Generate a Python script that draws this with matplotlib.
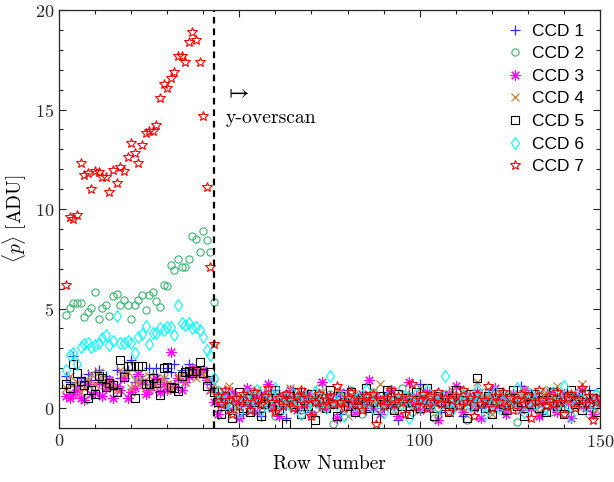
import numpy as np
import matplotlib
matplotlib.use("Agg")
import matplotlib.pyplot as plt
from matplotlib.ticker import MultipleLocator

plt.rcParams['font.family'] = 'serif'
plt.rcParams['font.serif'] = ['cmr10']
plt.rcParams['mathtext.fontset'] = 'cm'
plt.rcParams['axes.formatter.use_mathtext'] = True
plt.rcParams['axes.unicode_minus'] = False

# Row numbers: pre-overscan 2..43, overscan 44..150
rows_pre = list(range(2, 44))
rows_post = list(range(44, 151))
overscan_start = 43

ccd1_pre = [1.6, 1.3, 2.6, 1.1, 1.5, 1.3, 1.7, 1.4, 1.8, 1.9, 1.2, 1.6, 1.4, 1.0, 1.9, 1.5, 1.8, 1.9, 2.4, 1.3,
            1.6, 1.4, 1.2, 2.0, 1.7, 2.0, 1.3, 1.5, 2.0, 1.8, 2.2, 1.4, 1.9, 1.6, 2.2, 1.9, 1.7, 1.8, 1.9, 1.5,
            1.2, 0.8]
ccd2_pre = [4.69, 5.03, 5.26, 5.29, 5.26, 4.59, 4.82, 5.04, 5.83, 4.49, 5.04, 5.16, 4.62, 5.63, 5.74, 5.18,
            5.44, 5.19, 4.49, 5.18, 5.41, 5.68, 4.92, 5.69, 5.84, 5.36, 5.09, 6.20, 6.11, 7.17, 6.92, 7.49,
            7.10, 7.07, 7.47, 8.63, 8.51, 7.84, 8.89, 8.43, 7.86, 5.34]
ccd3_pre = [0.6, 0.5, 0.7, 0.9, 0.5, 0.4, 1.2, 0.7, 0.8, 1.3, 0.6, 1.0, 1.4, 0.5, 1.1, 0.9, 1.5, 0.5, 0.8, 1.0,
            1.7, 1.3, 0.7, 0.9, 1.2, 1.5, 0.8, 1.2, 0.9, 2.8, 1.1, 1.5, 0.9, 1.3, 1.6, 2.0, 1.7, 1.8, 1.9, 1.4,
            0.9, 0.3]
ccd4_pre = [1.0, 1.6, 1.2, 1.3, 0.8, 1.0, 1.4, 1.7, 1.2, 1.8, 1.5, 1.1, 1.3, 1.0, 0.9, 1.9, 1.7, 1.8, 1.0, 1.4,
            1.2, 1.5, 1.1, 1.6, 1.0, 1.2, 1.4, 1.5, 1.2, 0.9, 1.1, 1.6, 1.7, 1.3, 1.9, 1.8, 1.5, 1.9, 1.7, 1.4,
            0.9, 1.2]
ccd5_pre = [1.22, 0.99, 2.24, 1.78, 1.36, 1.14, 0.52, 0.9, 0.72, 1.61, 1.52, 1.06, 1.27, 1.14, 0.82, 2.40,
            1.56, 2.11, 2.11, 0.49, 2.11, 2.11, 1.22, 1.22, 1.52, 1.27, 0.64, 2.03, 2.06, 1.06, 1.02, 0.85,
            1.61, 1.81, 1.86, 1.78, 1.86, 2.31, 1.74, 1.1, 1.81, 0.82]
ccd6_pre = [1.9, 2.65, 2.75, 2.23, 3.08, 3.2, 3.25, 3.08, 3.17, 3.25, 3.53, 3.65, 3.17, 3.37, 4.62, 3.25,
            3.25, 3.37, 3.25, 2.75, 3.55, 3.7, 4.12, 3.22, 3.78, 3.75, 4.0, 3.92, 4.07, 4.09, 3.67, 5.16,
            4.29, 4.16, 4.26, 4.04, 4.09, 3.92, 3.57, 2.9, 2.66, 1.5]
ccd7_pre = [6.2, 9.6, 9.5, 9.7, 12.3, 11.7, 11.8, 11.0, 11.9, 11.86, 11.6, 11.6, 10.85, 11.98, 11.3, 12.1,
            11.9, 12.6, 13.3, 12.8, 12.3, 13.2, 13.8, 13.9, 13.9, 14.2, 15.6, 16.3, 16.1, 16.6, 16.9, 17.7,
            17.7, 17.4, 18.4, 18.9, 18.5, 17.4, 14.7, 11.1, 7.1, 3.2]

ccd1_post = [0.5, 0.2, 0.8, -0.1, 0.4, 0.6, 0.1, -0.3, 0.3, 0.7,
             0.2, 0.5, -0.4, 0.1, 0.6, 0.3, 0.9, 0.0, 0.4, -0.5,
             0.2, 0.6, 0.3, 0.1, 0.8, 0.4, -0.2, 0.5, 0.3, 0.7,
             0.0, 0.4, 0.2, 0.6, -0.3, 0.5, 0.9, 0.1, 0.3, 0.4,
             0.7, -0.1, 0.5, 0.2, 0.6, 0.3, 0.0, 0.8, 0.4, 0.2,
             -0.6, 0.5, 0.3, 0.7, 0.1, 0.4, 1.2, 0.2, 0.6, 0.0,
             0.3, 0.5, -0.2, 0.4, 0.8, 0.1, 0.6, 0.3, -0.4, 0.5,
             0.2, 0.7, 0.4, 0.0, 0.6, 0.3, 0.9, 0.1, 0.5, -0.1,
             0.4, 0.2, 0.7, 0.3, 1.1, 0.5, 0.0, 0.6, 0.2, 0.4,
             -0.3, 0.5, 0.8, 0.1, 0.3, 0.6, 0.2, -0.2, 0.4, 0.7,
             0.1, 0.5, 0.3, 0.9, 0.0, 0.4, 0.6]
ccd2_post = [0.9, 0.6, 0.3, 0.7, 0.1, 0.5, -0.2, 0.4, 0.8, 0.2,
             0.6, 0.3, 0.0, 0.5, 0.9, 0.2, -0.4, 0.6, 0.3, 0.7,
             0.1, 0.4, 0.8, -0.1, 0.5, 0.2, 0.6, 0.3, 1.0, 0.0,
             0.4, 0.7, -0.8, 0.3, 0.5, 0.1, 0.6, 0.9, 0.2, 0.4,
             -0.3, 0.6, 0.2, 0.8, 0.4, 0.0, 0.5, 0.3, 0.7, 0.1,
             0.4, 1.0, 0.2, 0.6, -0.2, 0.3, 0.5, 0.8, 0.1, 0.4,
             -0.5, 0.6, 0.3, 0.7, 0.2, 0.0, 0.5, 0.9, 0.3, -0.6,
             0.4, 0.1, 0.6, 0.3, 0.8, -0.1, 0.5, 0.2, 0.7, 0.4,
             0.0, 0.6, 0.3, -0.7, 0.5, 0.2, 0.8, 0.4, 0.1, 0.6,
             0.3, 0.9, -0.2, 0.5, 0.2, 0.7, 0.4, 0.0, 0.6, 0.3,
             0.8, 0.1, 0.5, -0.3, 0.4, 0.7, 0.2]
ccd3_post = [-0.3, 0.2, 0.6, -0.1, 0.8, 0.3, -0.5, 0.4, 1.0, 0.1,
             0.5, -0.2, 0.7, 0.3, 1.2, 0.0, 0.4, -0.4, 0.6, 0.2,
             0.9, 0.3, -0.1, 0.5, 0.1, 0.7, -0.3, 0.4, 0.2, 1.3,
             0.0, 0.6, 0.3, -0.5, 0.8, 0.2, 0.4, 0.1, -0.2, 0.5,
             0.7, 0.3, 1.4, 0.0, 0.6, -0.3, 0.4, 0.2, 0.9, 0.1,
             -0.4, 0.5, 0.3, 1.3, 0.2, 0.6, -0.1, 0.4, 0.8, 0.0,
             0.3, -0.6, 0.5, 0.2, 0.7, 0.1, 1.1, 0.4, -0.2, 0.6,
             0.3, 0.0, 0.8, -0.5, 0.4, 0.2, 0.6, 1.0, 0.1, 0.5,
             -0.3, 0.3, 0.7, 0.2, -0.1, 0.9, 0.4, 0.0, 0.6, -0.4,
             0.2, 0.5, 0.8, 0.1, -0.2, 0.4, 0.7, 0.3, -0.5, 0.6,
             0.2, 0.9, 0.0, 0.4, -0.3, 0.5, 0.3]
ccd4_post = [0.4, 0.7, 0.2, 1.1, 0.5, 0.0, 0.6, 0.3, 0.8, -0.2,
             0.4, 0.9, 0.1, 0.5, 0.3, 0.7, -0.1, 0.6, 0.2, 0.4,
             1.0, 0.3, 0.5, 0.0, 0.7, 0.2, 0.6, -0.3, 0.4, 0.8,
             0.1, 0.5, 0.3, 0.9, 0.2, 0.6, -0.4, 0.4, 0.7, 0.3,
             0.0, 0.5, 0.2, 0.8, 0.4, 1.2, 0.1, 0.6, 0.3, -0.1,
             0.5, 0.2, 0.7, 0.4, 0.0, 0.6, 1.0, 0.3, 0.5, 0.1,
             0.8, -0.2, 0.4, 0.6, 0.2, 0.9, 0.3, 0.5, 0.0, 0.7,
             0.4, 0.1, 1.3, 0.5, 0.2, 0.6, -0.3, 0.4, 0.8, 0.3,
             0.0, 0.5, 0.7, 0.2, 0.4, 0.9, 0.1, 0.6, 0.3, -0.2,
             0.5, 0.8, 0.2, 0.4, 1.1, 0.0, 0.6, 0.3, 0.7, 0.1,
             0.5, 1.2, 0.4, 0.2, 0.6, -0.1, 0.5]
ccd5_post = [0.3, -0.3, 0.6, 0.1, -0.5, 0.4, 0.8, 0.0, 0.5, -0.2,
             0.3, 0.7, -0.4, 0.2, 0.5, 0.1, 0.9, -0.1, 0.4, -0.8,
             0.6, 0.2, 0.8, -0.3, 0.4, 0.1, 0.7, -0.6, 0.3, 0.5,
             0.0, 0.9, 0.2, -0.4, 0.6, 0.3, 0.1, 0.8, -0.2, 0.4,
             0.5, 1.0, 0.0, 0.3, -0.5, 0.6, 0.2, 0.9, 0.4, -0.1,
             0.7, 0.1, 0.5, -0.3, 0.3, 0.8, 0.0, 0.4, 1.0, 0.2,
             -0.4, 0.6, 0.3, 0.1, -0.2, 0.5, 0.9, 0.2, 0.4, -0.5,
             0.7, 0.1, 1.5, 0.3, 0.0, 0.6, -0.3, 0.4, 0.8, 0.2,
             -0.1, 0.5, 0.9, 0.1, 0.3, -0.4, 0.6, 0.2, 0.7, 0.0,
             0.4, -0.2, 0.5, 0.8, 0.1, 0.3, -0.3, 0.6, 0.9, 0.2,
             0.4, -0.1, 0.7, 0.3, 0.5, -0.2, 0.4]
ccd6_post = [0.8, 0.5, 0.2, 0.6, 0.0, 0.4, -0.2, 0.3, 0.7, 0.1,
             0.5, 0.9, -0.1, 0.4, 0.2, 0.6, 1.0, 0.3, 0.0, 0.5,
             0.2, 0.7, 0.4, -0.3, 0.6, 0.1, 0.3, 0.8, 0.2, 0.5,
             0.0, 1.6, 0.4, 0.2, 0.6, -0.4, 0.3, 0.7, 0.1, 0.5,
             0.2, 0.9, 0.4, 0.0, 0.6, 0.3, -0.2, 0.5, 0.8, 0.1,
             0.4, 0.2, 0.6, -0.5, 0.3, 0.7, 0.1, 0.5, 0.9, 0.2,
             0.4, 0.0, 0.6, 1.6, 0.3, -0.1, 0.5, 0.2, 0.7, 0.4,
             0.1, 0.6, 0.9, 0.3, -0.3, 0.5, 0.2, 0.8, 0.0, 0.4,
             0.6, 0.1, 0.3, 1.0, 0.5, -0.2, 0.4, 0.7, 0.2, 0.6,
             0.3, 0.0, 0.5, 0.8, 0.1, 0.4, 1.1, 0.2, -0.4, 0.6,
             0.3, 0.9, 0.1, 0.5, 0.2, 0.7, 0.4]
ccd7_post = [0.6, 0.2, 0.9, 0.4, -0.3, 0.5, 0.1, 0.7, 0.3, -0.1,
             0.8, 0.4, 0.2, 0.6, 1.0, 0.3, -0.2, 0.5, 0.1, 0.7,
             0.4, 0.0, 0.6, 0.9, 0.2, 0.5, -0.4, 0.3, 0.7, 0.1,
             0.4, 0.6, 0.2, 1.1, 0.3, 0.0, 0.5, 0.8, 0.2, 0.4,
             -0.1, 0.6, 0.3, 0.7, -0.8, 0.4, 0.1, 0.5, 0.9, 0.2,
             0.6, 0.3, -0.3, 0.5, 1.2, 0.1, 0.4, 0.7, 0.0, 0.6,
             0.3, 0.8, 0.2, 0.5, -0.2, 0.4, 0.6, 0.1, 0.9, 0.3,
             0.5, -0.4, 0.7, 0.2, 0.4, 1.1, 0.0, 0.6, 0.3, 0.8,
             0.1, 0.5, -0.1, 0.4, 0.7, 0.2, 0.6, -0.5, 0.3, 0.9,
             0.4, 0.1, 0.6, 0.2, 0.8, 0.3, -0.3, 0.5, 0.7, 0.0,
             0.4, 1.0, 0.2, 0.6, -0.6, 0.3, 0.5]

labels = ['CCD 1', 'CCD 2', 'CCD 3', 'CCD 4', 'CCD 5', 'CCD 6', 'CCD 7']
pre = [ccd1_pre, ccd2_pre, ccd3_pre, ccd4_pre, ccd5_pre, ccd6_pre, ccd7_pre]
post = [ccd1_post, ccd2_post, ccd3_post, ccd4_post, ccd5_post, ccd6_post, ccd7_post]

styles = [
    dict(marker='+', color='#2a2aff', ms=7, mew=0.9),
    dict(marker='o', color='#3cb371', ms=5.2, mew=0.8),
    dict(marker=(8, 2, 0), color='#ff00ff', ms=7.5, mew=0.8),
    dict(marker='x', color='#cd7f32', ms=5.5, mew=0.9),
    dict(marker='s', color='#000000', ms=5.5, mew=0.8),
    dict(marker='d', color='#00ffff', ms=6.5, mew=0.8),
    dict(marker='*', color='#ff0000', ms=7.5, mew=0.8),
]

fig = plt.figure(figsize=(6.14, 4.82), dpi=100)
ax = fig.add_axes([0.0961, 0.112, 0.8811, 0.8672])

x = rows_pre + rows_post
for lab, p, q, st in zip(labels, pre, post, styles):
    y = p + q
    ax.plot(x, y, linestyle='none', marker=st['marker'], markersize=st['ms'],
            markeredgewidth=st['mew'], markeredgecolor=st['color'],
            markerfacecolor='none', color=st['color'], label=lab)

ax.axvline(overscan_start, color='black', lw=1.6, dashes=(3, 2.2))

ax.text(46.1, 15.86, r'$\mapsto$', fontsize=16, ha='left', va='center')
ax.text(46.1, 14.3, 'y-overscan', fontsize=14.2, ha='left', va='baseline')

ax.set_xlim(0, 150)
ax.set_ylim(-1, 20)
ax.xaxis.set_major_locator(MultipleLocator(50))
ax.xaxis.set_minor_locator(MultipleLocator(10))
ax.yaxis.set_major_locator(MultipleLocator(5))
ax.yaxis.set_minor_locator(MultipleLocator(1))
ax.tick_params(which='both', direction='in', top=True, right=True, labelsize=13, colors='#262626')
ax.tick_params(which='major', length=5, width=0.8)
ax.tick_params(which='minor', length=3, width=0.8)
for sp in ax.spines.values():
    sp.set_linewidth(0.9)
    sp.set_color('#262626')

ax.set_xlabel('Row Number', fontsize=14, labelpad=4)
ax.set_ylabel(r'$\langle p\rangle\ [\mathrm{ADU}]$', fontsize=14, labelpad=4)

leg = ax.legend(loc='upper right', bbox_to_anchor=(0.983, 0.9844), borderaxespad=0,
                frameon=False, handlelength=1.2, handletextpad=0.37, labelspacing=0.43,
                prop={'family': 'Liberation Sans', 'size': 12.5})

fig.savefig('out.png', dpi=100)
